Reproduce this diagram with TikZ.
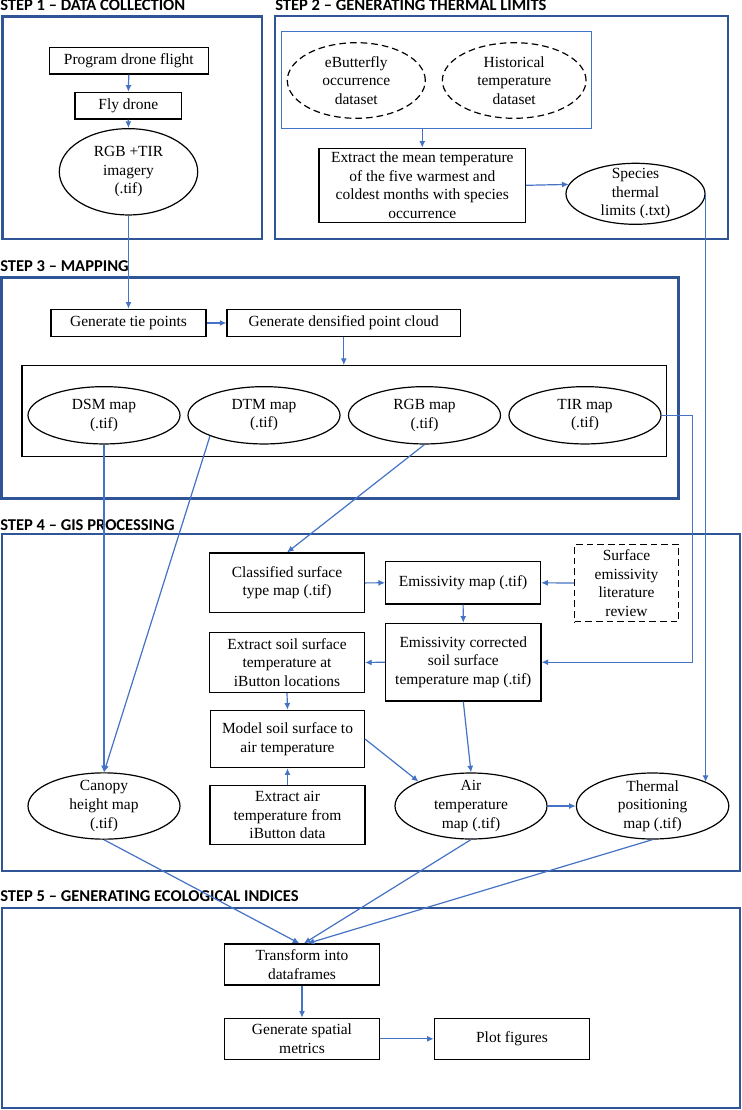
\documentclass[tikz,border=0pt]{standalone}
\usepackage{fontspec}
\setmainfont{Liberation Serif}
\newfontfamily\headfont{Carlito}
\usetikzlibrary{arrows.meta,shapes.geometric}
\definecolor{frameblue}{HTML}{2F5597}
\definecolor{lineblue}{HTML}{4472C4}
\begin{document}
\begin{tikzpicture}[x=0.75pt,y=-0.75pt,
  frame/.style={draw=frameblue, line width=2pt},
  sz/.style 2 args={minimum width=#1*0.75pt, minimum height=#2*0.75pt},
  txt/.style={align=center, font=\fontsize{11.6}{13.9}\selectfont},
  box/.style={txt, draw=black, line width=0.9pt, rectangle, inner sep=0pt},
  dbox/.style={box, dash pattern=on 5pt off 3pt},
  ell/.style={draw=black, line width=0.9pt, ellipse, inner sep=0pt},
  dell/.style={ell, dash pattern=on 5pt off 3pt},
  lbl/.style={txt, inner sep=0pt},
  arr/.style={draw=lineblue, line width=0.9pt, -{Latex[length=5pt,width=4.5pt]}},
  head/.style={anchor=base west, inner sep=0pt, font=\headfont\bfseries\fontsize{12.4}{14}\selectfont}
]
\useasboundingbox (0,0) rectangle (742,1110);

% headings
\node[head] (h1) at (0,11) {STEP 1 – DATA COLLECTION};
\node[head] (h2) at (275,11) {STEP 2 – GENERATING THERMAL LIMITS};
\node[head] (h3) at (0,271.7) {STEP 3 – MAPPING};
\node[head] (h4) at (0,530) {STEP 4 – GIS PROCESSING};
\node[head] (h5) at (0,901.7) {STEP 5 – GENERATING ECOLOGICAL INDICES};

% frames
\draw[frame] (2.7,16.7) rectangle (262,239);
\draw[frame] (275,16) rectangle (728,239);
\draw[frame] (1.5,277.3) rectangle (678.3,498.5);
\draw[frame] (2,534) rectangle (740,871);
\draw[frame] (2,908) rectangle (740,1108);

% step 1
\node[box, sz={159}{26.7}] (prog) at (128.8,60.7) {Program drone flight};
\node[box, sz={106.7}{26.7}] (fly) at (128.3,105.7) {Fly drone};
\node[ell, sz={138.4}{86.3}, label={[lbl]center:{RGB +TIR\\imagery\\(.tif)}}] (rgbtir) at (128.5,171.8) {};

% step 2
\node[draw=lineblue, line width=0.75pt, inner sep=0pt, sz={310.7}{96.6}] (dsets) at (436.35,80) {};
\node[dell, sz={138}{75.6}, label={[lbl]center:{eButterfly\\occurrence\\dataset}}] (ebut) at (356.3,80.5) {};
\node[dell, sz={143.7}{75.6}, label={[lbl]center:{Historical\\temperature\\dataset}}] (hist) at (514.2,80.5) {};
\node[box, sz={206.5}{74}] (extract) at (422.3,185.3) {Extract the mean temperature\\of the five warmest and\\coldest months with species\\occurrence};
\node[ell, sz={139}{61}, label={[lbl]center:{Species\\thermal\\limits (.txt)}}] (species) at (635.5,193.8) {};

% step 3
\node[box, sz={155}{27.4}] (tie) at (128.5,323) {Generate tie points};
\node[box, sz={233.5}{27.4}] (dense) at (343.8,323) {Generate densified point cloud};
\node[box, sz={644.5}{91}] (mapsbox) at (344.25,411.2) {};
\node[ell, sz={152}{57.3}, label={[lbl]center:{DSM map\\(.tif)}}] (dsm) at (104,415.3) {};
\node[ell, sz={152}{57.3}, label={[lbl]center:{DTM map\\(.tif)}}] (dtm) at (264,415.3) {};
\node[ell, sz={152}{57.3}, label={[lbl]center:{RGB map\\(.tif)}}] (rgbm) at (424.5,415.3) {};
\node[ell, sz={152}{57.3}, label={[lbl]center:{TIR map\\(.tif)}}] (tir) at (585,415.3) {};

% step 4
\node[box, sz={154.8}{59.7}] (classified) at (287,582.9) {Classified surface\\type map (.tif)};
\node[box, sz={154.8}{42.3}] (emis) at (463.1,582.8) {Emissivity map (.tif)};
\node[dbox, sz={104}{77.4}] (lit) at (626.5,583) {Surface\\emissivity\\literature\\review};
\node[box, sz={155.3}{77.7}] (emcorr) at (463.3,662.2) {Emissivity corrected\\soil surface\\temperature map (.tif)};
\node[box, sz={154.8}{59.6}] (soil) at (287,662.5) {Extract soil surface\\temperature at\\iButton locations};
\node[box, sz={153.8}{57.4}] (model) at (287.5,739) {Model soil surface to\\air temperature};
\node[box, sz={155}{59.4}] (airext) at (287.5,815) {Extract air\\temperature from\\iButton data};
\node[ell, sz={152}{66.3}, label={[lbl]center:{Canopy\\height map\\(.tif)}}] (canopy) at (104,806) {};
\node[ell, sz={152}{66}, label={[lbl]center:{Air\\temperature\\map (.tif)}}] (airT) at (471,806) {};
\node[ell, sz={152.4}{66}, label={[lbl]center:{Thermal\\positioning\\map (.tif)}}] (thermal) at (652.6,806) {};

% step 5
\node[box, sz={155.3}{41}] (transform) at (302,964.5) {Transform into\\dataframes};
\node[box, sz={155.3}{41}] (spatial) at (302,1038.8) {Generate spatial\\metrics};
\node[box, sz={155.3}{41}] (plot) at (512,1038.8) {Plot figures};

% connectors
\draw[arr] (prog.south) -- (fly.north);
\draw[arr] (fly.south) -- (rgbtir.north);
\draw[arr] (rgbtir.south) -- (tie.north);
\draw[arr] (extract.north |- dsets.south) -- (extract.north);
\draw[arr] (extract.east) -- (species.172.5);
\draw[arr] (species.east) -- (species.east |- thermal.24);
\draw[arr] (tie.east) -- (dense.west);
\draw[arr] (dense.south) -- (dense.south |- mapsbox.north);
\draw[arr] (dsm.south) -- (canopy.north);
\draw[arr] (dtm.201) -- (canopy.north);
\draw[arr] (rgbm.south) -- (classified.north);
\draw[arr] (tir.east) -- ++(31,0) |- (emcorr.east);
\draw[arr] (classified.east) -- (emis.west);
\draw[arr] (lit.west) -- (emis.east);
\draw[arr] (emis.south) -- (emcorr.north);
\draw[arr] (emcorr.west) -- (soil.east);
\draw[arr] (soil.south) -- (model.north);
\draw[arr] (airext.north) -- (model.south);
\draw[arr] (model.east) -- (airT.155);
\draw[arr] (emcorr.south) -- (airT.north);
\draw[arr] (airT.east) -- (thermal.west);
\draw[arr] (canopy.south) -- (transform.97);
\draw[arr] (airT.south) -- (transform.85);
\draw[arr] (thermal.south) -- (transform.75);
\draw[arr] (transform.south) -- (spatial.north);
\draw[arr] (spatial.east) -- (plot.west);
\end{tikzpicture}
\end{document}
